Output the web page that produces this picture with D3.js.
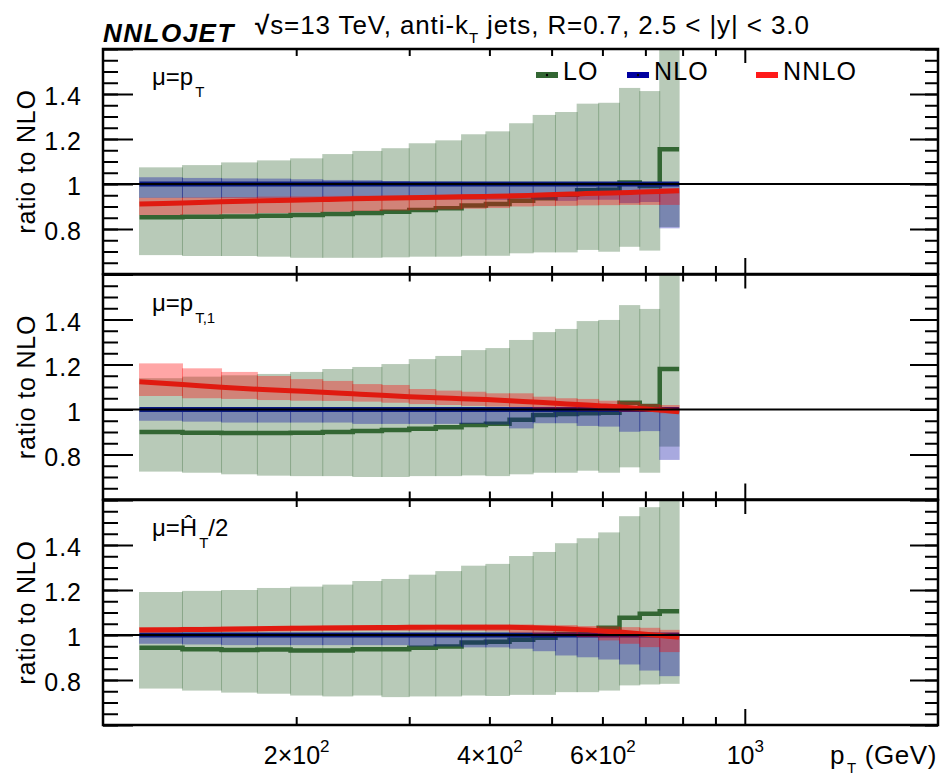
<!DOCTYPE html>
<html>
<head>
<meta charset="utf-8">
<script src="https://cdn.jsdelivr.net/npm/d3@7"></script>
<style>
  body { margin: 0; background: #fff; }
  text { font-family: "Liberation Sans", Arial, Helvetica, sans-serif; }
</style>
</head>
<body>
<div id="chart"></div>
<script>
// Bin edges in pT (GeV).
const edges = [114, 133, 153, 174, 196, 220, 245, 272, 300, 330, 362, 395, 430, 468, 507, 548, 592, 638, 686, 737, 790];

// Panel 1: mu = pT.
const lo1     = [0.852, 0.855, 0.856, 0.859, 0.862, 0.867, 0.871, 0.877, 0.884, 0.892, 0.905, 0.911, 0.926, 0.937, 0.952, 0.972, 0.975, 1.007, 0.991, 1.155];
const loHi1   = [1.074, 1.084, 1.096, 1.105, 1.114, 1.133, 1.147, 1.159, 1.181, 1.194, 1.221, 1.234, 1.270, 1.307, 1.320, 1.357, 1.361, 1.427, 1.413, 1.750];
const loLo1   = [0.684, 0.680, 0.680, 0.677, 0.672, 0.672, 0.672, 0.674, 0.677, 0.677, 0.681, 0.681, 0.692, 0.696, 0.696, 0.707, 0.699, 0.721, 0.704, 0.809];
const nloHi1  = [1.030, 1.027, 1.025, 1.024, 1.021, 1.018, 1.017, 1.013, 1.010, 1.010, 1.009, 1.008, 1.008, 1.008, 1.008, 1.008, 1.008, 1.008, 1.007, 1.007];
const nloLo1  = [0.938, 0.938, 0.937, 0.936, 0.935, 0.934, 0.933, 0.932, 0.930, 0.930, 0.929, 0.929, 0.935, 0.930, 0.925, 0.930, 0.930, 0.915, 0.920, 0.803];
const nnloHi1 = [0.939, 0.940, 0.942, 0.944, 0.945, 0.947, 0.948, 0.949, 0.950, 0.952, 0.954, 0.955, 0.959, 0.960, 0.962, 0.963, 0.965, 0.966, 0.970, 0.981];
const nnloLo1 = [0.862, 0.865, 0.868, 0.871, 0.874, 0.877, 0.880, 0.882, 0.884, 0.887, 0.890, 0.893, 0.900, 0.902, 0.903, 0.905, 0.906, 0.907, 0.907, 0.907];
const nnlo1   = [0.911, 0.916, 0.921, 0.925, 0.928, 0.931, 0.934, 0.937, 0.939, 0.941, 0.943, 0.945, 0.947, 0.950, 0.953, 0.956, 0.959, 0.961, 0.964, 0.967, 0.970];

// Panel 2: mu = pT,1.
const lo2     = [0.900, 0.897, 0.896, 0.896, 0.897, 0.900, 0.904, 0.909, 0.915, 0.921, 0.931, 0.937, 0.954, 0.976, 0.980, 0.983, 0.986, 1.030, 1.016, 1.180];
const loHi2   = [1.139, 1.146, 1.152, 1.158, 1.167, 1.180, 1.189, 1.202, 1.224, 1.238, 1.264, 1.273, 1.309, 1.344, 1.358, 1.393, 1.398, 1.464, 1.447, 1.750];
const loLo2   = [0.724, 0.719, 0.712, 0.706, 0.704, 0.704, 0.700, 0.700, 0.704, 0.704, 0.707, 0.704, 0.712, 0.719, 0.719, 0.728, 0.719, 0.743, 0.719, 0.835];
const nloHi2  = [1.008, 1.008, 1.008, 1.008, 1.008, 1.008, 1.008, 1.008, 1.008, 1.008, 1.008, 1.008, 1.008, 1.008, 1.008, 1.008, 1.008, 1.008, 1.008, 1.008];
const nloLo2  = [0.950, 0.946, 0.942, 0.942, 0.942, 0.942, 0.936, 0.936, 0.936, 0.936, 0.936, 0.933, 0.916, 0.939, 0.939, 0.927, 0.924, 0.901, 0.904, 0.776];
const nnloHi2 = [1.205, 1.183, 1.167, 1.149, 1.135, 1.127, 1.113, 1.109, 1.091, 1.084, 1.079, 1.072, 1.072, 1.057, 1.050, 1.047, 1.039, 1.035, 1.024, 1.020];
const nnloLo2 = [1.060, 1.050, 1.047, 1.042, 1.039, 1.038, 1.035, 1.030, 1.024, 1.020, 1.016, 1.013, 1.010, 1.001, 0.998, 0.995, 0.993, 0.990, 0.990, 0.983];
const nnlo2   = [1.123, 1.111, 1.099, 1.090, 1.083, 1.077, 1.070, 1.063, 1.057, 1.052, 1.048, 1.044, 1.039, 1.033, 1.028, 1.022, 1.017, 1.012, 1.004, 0.998, 0.990];

// Panel 3: mu = HT/2.
const lo3     = [0.943, 0.937, 0.933, 0.936, 0.931, 0.931, 0.937, 0.937, 0.943, 0.949, 0.967, 0.970, 0.979, 0.988, 1.005, 1.005, 1.032, 1.077, 1.094, 1.106];
const loHi3   = [1.191, 1.196, 1.200, 1.209, 1.215, 1.224, 1.240, 1.249, 1.268, 1.284, 1.308, 1.316, 1.351, 1.369, 1.408, 1.430, 1.456, 1.528, 1.568, 1.750];
const loLo3   = [0.762, 0.753, 0.744, 0.739, 0.731, 0.727, 0.731, 0.724, 0.727, 0.727, 0.731, 0.729, 0.734, 0.734, 0.746, 0.746, 0.753, 0.776, 0.780, 0.783];
const nloHi3  = [1.008, 1.008, 1.008, 1.008, 1.008, 1.008, 1.008, 1.008, 1.008, 1.008, 1.008, 1.008, 1.008, 1.008, 1.008, 1.008, 1.008, 1.008, 1.008, 1.008];
const nloLo3  = [0.961, 0.958, 0.955, 0.955, 0.955, 0.955, 0.955, 0.955, 0.949, 0.949, 0.945, 0.945, 0.939, 0.928, 0.909, 0.901, 0.891, 0.869, 0.842, 0.817];
const nnloHi3 = [1.035, 1.036, 1.038, 1.040, 1.041, 1.042, 1.043, 1.044, 1.045, 1.046, 1.047, 1.047, 1.047, 1.045, 1.044, 1.040, 1.038, 1.035, 1.032, 1.023];
const nnloLo3 = [1.012, 1.013, 1.014, 1.015, 1.016, 1.017, 1.018, 1.018, 1.019, 1.019, 1.018, 1.016, 1.010, 1.005, 1.000, 0.990, 0.976, 0.961, 0.946, 0.924];
const nnlo3   = [1.022, 1.024, 1.026, 1.028, 1.030, 1.031, 1.032, 1.033, 1.034, 1.035, 1.035, 1.035, 1.034, 1.032, 1.029, 1.025, 1.019, 1.013, 1.006, 0.998, 0.990];

// Axis ticks and labels.
const xMinorTicks = [200, 300, 400, 500, 600, 700, 800, 900];
const xMajorTicks = [1000];
const xLabelVals = [200, 400, 600, 1000];
const xLabelMant = ["2\u00d710", "4\u00d710", "6\u00d710", "10"];
const xLabelExp  = ["2", "2", "2", "3"];
const yMajorTicks = [0.6, 0.8, 1.0, 1.2, 1.4, 1.6];
const yLabelTicks = [0.8, 1, 1.2, 1.4];
const legendNames = ["LO", "NLO", "NNLO"];

// Colours.
const loColor = "#336633", nloColor = "#0a1a80", nnloColor = "#e01a10";
const loBand = "rgba(51,102,51,0.35)", nloBand = "rgba(0,3,160,0.34)", nnloBand = "rgba(255,0,0,0.35)";

const width = 941, height = 776;
const svg = d3.select("#chart").append("svg")
  .attr("width", width)
  .attr("height", height);

const x = d3.scaleLog().domain([100, 2000]).range([103, 938]);
const panelTop = [49, 274.5, 500], panelH = 225;

const panels = [
  {lo: lo1, loHi: loHi1, loLo: loLo1, nloHi: nloHi1, nloLo: nloLo1, nnloHi: nnloHi1, nnloLo: nnloLo1, nnlo: nnlo1, sub: "T", pre: "\u03bc=p", post: ""},
  {lo: lo2, loHi: loHi2, loLo: loLo2, nloHi: nloHi2, nloLo: nloLo2, nnloHi: nnloHi2, nnloLo: nnloLo2, nnlo: nnlo2, sub: "T,1", pre: "\u03bc=p", post: ""},
  {lo: lo3, loHi: loHi3, loLo: loLo3, nloHi: nloHi3, nloLo: nloLo3, nnloHi: nnloHi3, nnloLo: nnloLo3, nnlo: nnlo3, sub: "T", pre: "\u03bc=\u0124", post: "/2"}
];

const nb = edges.length - 1;

panels.forEach((p, i) => {
  const top = panelTop[i];
  const y = d3.scaleLinear().domain([0.6, 1.6]).range([top + panelH, top]);

  svg.append("clipPath").attr("id", "clip" + i)
    .append("rect")
      .attr("x", 103).attr("y", top)
      .attr("width", 835).attr("height", panelH);

  const g = svg.append("g").attr("clip-path", "url(#clip" + i + ")");

  // Band boxes, one per bin; neighbours overlap by a pixel.
  function band(lo, hi, fill) {
    g.append("g").selectAll("rect")
      .data(d3.range(nb))
      .join("rect")
        .attr("x", j => x(edges[j]) - 0.5)
        .attr("width", j => x(edges[j + 1]) - x(edges[j]) + 1)
        .attr("y", j => y(hi[j]))
        .attr("height", j => y(lo[j]) - y(hi[j]))
        .attr("fill", fill);
  }

  // Step line through the bins.
  function step(vals, color, w) {
    const pts = edges.map((e, j) => [e, vals[Math.min(j, nb - 1)]]);
    g.append("path")
      .datum(pts)
      .attr("d", d3.line().curve(d3.curveStepAfter).x(d => x(d[0])).y(d => y(d[1])))
      .attr("fill", "none")
      .attr("stroke", color)
      .attr("stroke-width", w);
  }

  band(p.loLo, p.loHi, loBand);
  step(p.lo, loColor, 4.5);
  band(p.nloLo, p.nloHi, nloBand);
  step(edges.slice(1).map(() => 1), nloColor, 5);
  band(p.nnloLo, p.nnloHi, nnloBand);

  g.append("path")
    .datum(edges.map((e, j) => [e, p.nnlo[j]]))
    .attr("d", d3.line().curve(d3.curveMonotoneX).x(d => x(d[0])).y(d => y(d[1])))
    .attr("fill", "none")
    .attr("stroke", nnloColor)
    .attr("stroke-width", 5);

  // Reference line at 1.
  svg.append("line")
    .attr("x1", 103).attr("x2", 938)
    .attr("y1", y(1)).attr("y2", y(1))
    .attr("stroke", "#000")
    .attr("stroke-width", 2);

  // Y ticks, inside on both sides.
  const tickStyle = sel => sel.call(a => a.select(".domain").remove())
    .selectAll("line").attr("stroke-width", 2);
  svg.append("g").attr("transform", "translate(103,0)")
    .call(d3.axisRight(y).tickValues(y.ticks(20)).tickSize(15).tickFormat("")).call(tickStyle);
  svg.append("g").attr("transform", "translate(103,0)")
    .call(d3.axisRight(y).tickValues(yMajorTicks).tickSize(30).tickFormat("")).call(tickStyle);
  svg.append("g").attr("transform", "translate(938,0)")
    .call(d3.axisLeft(y).tickValues(y.ticks(20)).tickSize(13).tickFormat("")).call(tickStyle);
  svg.append("g").attr("transform", "translate(938,0)")
    .call(d3.axisLeft(y).tickValues(yMajorTicks).tickSize(28).tickFormat("")).call(tickStyle);

  // X ticks at top and bottom of the panel.
  svg.append("g").attr("transform", "translate(0," + top + ")")
    .call(d3.axisBottom(x).tickValues(xMinorTicks).tickSize(7).tickFormat("")).call(tickStyle);
  svg.append("g").attr("transform", "translate(0," + top + ")")
    .call(d3.axisBottom(x).tickValues(xMajorTicks).tickSize(14).tickFormat("")).call(tickStyle);
  svg.append("g").attr("transform", "translate(0," + (top + panelH) + ")")
    .call(d3.axisTop(x).tickValues(xMinorTicks).tickSize(8).tickFormat("")).call(tickStyle);
  svg.append("g").attr("transform", "translate(0," + (top + panelH) + ")")
    .call(d3.axisTop(x).tickValues(xMajorTicks).tickSize(16).tickFormat("")).call(tickStyle);

  // Y tick labels.
  svg.append("g").attr("transform", "translate(103,0)")
    .call(d3.axisLeft(y).tickValues(yLabelTicks).tickSize(0).tickPadding(21).tickFormat(d3.format("")))
    .call(a => a.select(".domain").remove())
    .selectAll("text")
      .attr("dy", "0.42em")
      .style("font-size", "25px")
      .style("letter-spacing", "1px")
      .style("font-family", "'Liberation Sans', Arial, sans-serif")
      .attr("fill", "#000");

  // Frame.
  svg.append("rect")
    .attr("x", 103).attr("y", top)
    .attr("width", 835).attr("height", panelH)
    .attr("fill", "none")
    .attr("stroke", "#000")
    .attr("stroke-width", 2.5);

  // Y title.
  svg.append("text")
    .attr("transform", "translate(35," + (top + panelH / 2) + ") rotate(-90)")
    .attr("text-anchor", "middle")
    .style("font-size", "25px")
    .style("letter-spacing", "0.8px")
    .text("ratio to NLO");

  // Scale label.
  const lab = svg.append("text")
    .attr("x", 152).attr("y", top + 36)
    .style("font-size", "24px");
  lab.append("tspan").text(p.pre);
  lab.append("tspan").attr("dy", 12).attr("dx", 2).style("font-size", "15px").text(p.sub);
  if (p.post) lab.append("tspan").attr("dy", -12).text(p.post);
});

// Legend in the top panel.
const legX = [536, 627, 756];
const legColors = [loColor, "#0000a0", "#ff1a1a"];
legendNames.forEach((name, k) => {
  svg.append("line")
    .attr("x1", legX[k]).attr("x2", legX[k] + 22)
    .attr("y1", 75).attr("y2", 75)
    .attr("stroke", legColors[k])
    .attr("stroke-width", 6);
  if (k < 2) {
    svg.append("circle")
      .attr("cx", legX[k] + 11).attr("cy", 75).attr("r", 1.2)
      .attr("fill", "#000");
  }
  svg.append("text")
    .attr("x", legX[k] + 27).attr("y", 80)
    .style("font-size", "25px")
    .style("letter-spacing", "1.2px")
    .text(name);
});

// Bottom axis labels.
svg.append("g").attr("transform", "translate(0,725)")
  .call(d3.axisBottom(x).tickValues(xLabelVals).tickSize(0).tickFormat(""))
  .call(a => a.select(".domain").remove())
  .selectAll(".tick").each(function(d, k) {
    const t = d3.select(this).append("text")
      .attr("y", 39)
      .attr("text-anchor", "middle")
      .attr("fill", "#000")
      .style("font-size", "25px");
    t.append("tspan").text(xLabelMant[k]);
    t.append("tspan").attr("dy", -12).style("font-size", "17px").text(xLabelExp[k]);
  });

// X title.
const xt = svg.append("text")
  .attr("x", 937).attr("y", 764)
  .attr("text-anchor", "end")
  .style("font-size", "26px")
  .style("letter-spacing", "0.6px");
xt.append("tspan").text("p");
xt.append("tspan").attr("dy", 9).attr("dx", 2).style("font-size", "15px").text("T");
xt.append("tspan").attr("dy", -9).text(" (GeV)");

// Header.
svg.append("text")
  .attr("x", 103).attr("y", 42)
  .style("font-size", "26px")
  .style("font-weight", "700")
  .style("font-style", "italic")
  .style("letter-spacing", "1.5px")
  .text("NNLOJET");

const head = svg.append("text")
  .attr("x", 255).attr("y", 34)
  .style("font-size", "26px")
  .style("letter-spacing", "0.9px");
head.append("tspan").style("font-weight", "700").text("\u221a");
head.append("tspan").text("s=13 TeV, anti-k");
head.append("tspan").attr("dy", 9).style("font-size", "15px").text("T");
head.append("tspan").attr("dy", -9).text(" jets, R=0.7, 2.5 < |y| < 3.0");
</script>
</body>
</html>
